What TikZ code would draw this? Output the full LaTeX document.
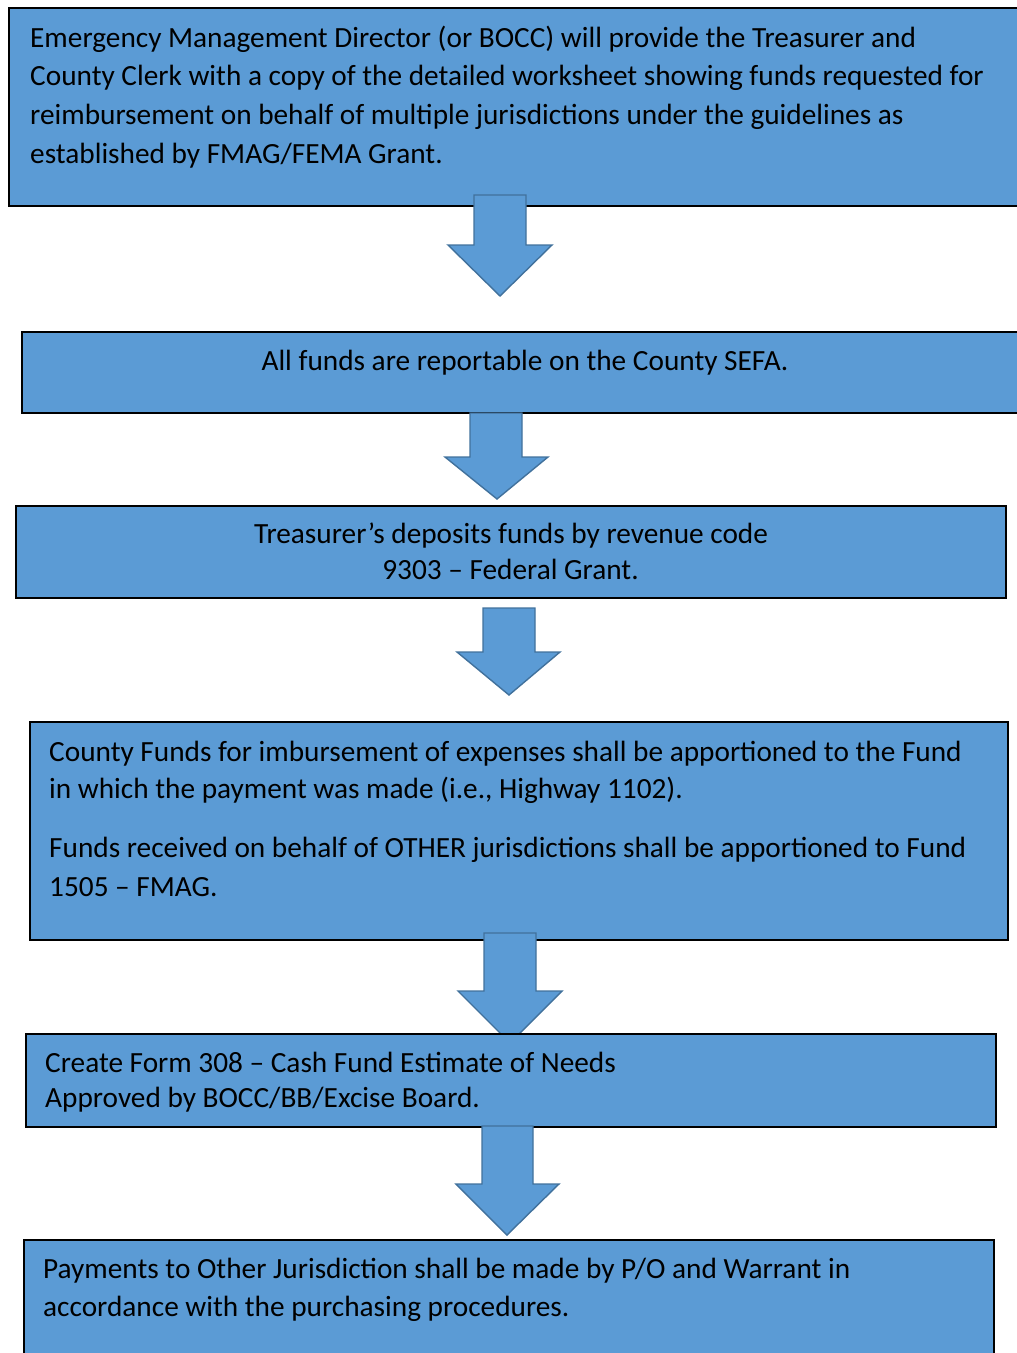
\documentclass[tikz,border=0pt]{standalone}
\usepackage{fontspec}
\setmainfont{Carlito}
\definecolor{boxblue}{HTML}{5B9BD5}
\definecolor{arrowedge}{HTML}{41719C}
\begin{document}
\begin{tikzpicture}[x=1pt,y=-1pt,
  box/.style={draw=black,line width=1.6pt,fill=boxblue,rectangle,anchor=north west,inner sep=0pt},
  txt/.style={anchor=base west,inner sep=0pt,font=\fontsize{29.3}{38}\selectfont},
  ctxt/.style={anchor=base,inner sep=0pt,font=\fontsize{29.3}{38}\selectfont},
  barrow/.style={draw=arrowedge,line width=1.4pt,fill=boxblue,line join=miter}]
\useasboundingbox (0,0) rectangle (1017,1353);
% box 1
\node[box,minimum width=1040pt,minimum height=198pt] (b1) at (8,7) {};
\node[txt] (t1a) at (30,47) {Emergency Management Director (or BOCC) will provide the Treasurer and};
\node[txt] (t1b) at (30,85.5) {County Clerk with a copy of the detailed worksheet showing funds requested for};
\node[txt] (t1c) at (30,124.5) {reimbursement on behalf of multiple jurisdictions under the guidelines as};
\node[txt] (t1d) at (30,163) {established by FMAG/FEMA Grant.};
% arrow 1
\draw[barrow] (474,195) -- (526,195) -- (526,245) -- (552,245) -- (500,296) -- (448,245) -- (474,245) -- cycle;
% box 2
\node[box,minimum width=1030pt,minimum height=81pt] (b2) at (21,331) {};
\node[ctxt] (t2) at (525,370) {All funds are reportable on the County SEFA.};
% arrow 2
\draw[barrow] (470,413) -- (522,413) -- (522,457) -- (548,457) -- (497,499) -- (445,457) -- (470,457) -- cycle;
% box 3
\node[box,minimum width=990pt,minimum height=92pt] (b3) at (15,505) {};
\node[ctxt] (t3a) at (511,543) {Treasurer’s deposits funds by revenue code};
\node[ctxt] (t3b) at (510.5,579) {9303 – Federal Grant.};
% arrow 3
\draw[barrow] (483,608) -- (535,608) -- (535,652) -- (560,652) -- (509,695) -- (457,652) -- (483,652) -- cycle;
% box 4
\node[box,minimum width=978pt,minimum height=218pt] (b4) at (29,721) {};
\node[txt] (t4a) at (49,761) {County Funds for imbursement of expenses shall be apportioned to the Fund};
\node[txt] (t4b) at (49,798.5) {in which the payment was made (i.e., Highway 1102).};
\node[txt] (t4c) at (49,857) {Funds received on behalf of OTHER jurisdictions shall be apportioned to Fund};
\node[txt] (t4d) at (49,896) {1505 – FMAG.};
% arrow 4
\draw[barrow] (484,933) -- (536,933) -- (536,991) -- (562,991) -- (510,1043) -- (458,991) -- (484,991) -- cycle;
% box 5
\node[box,minimum width=970pt,minimum height=93pt] (b5) at (25,1033) {};
\node[txt] (t5a) at (45,1072) {Create Form 308 – Cash Fund Estimate of Needs};
\node[txt] (t5b) at (45,1107) {Approved by BOCC/BB/Excise Board.};
% arrow 5
\draw[barrow] (482,1126) -- (533,1126) -- (533,1184) -- (559,1184) -- (507,1235) -- (456,1184) -- (482,1184) -- cycle;
% box 6
\node[box,minimum width=970pt,minimum height=150pt] (b6) at (23,1239) {};
\node[txt] (t6a) at (43,1278) {Payments to Other Jurisdiction shall be made by P/O and Warrant in};
\node[txt] (t6b) at (43,1316) {accordance with the purchasing procedures.};
\end{tikzpicture}
\end{document}
